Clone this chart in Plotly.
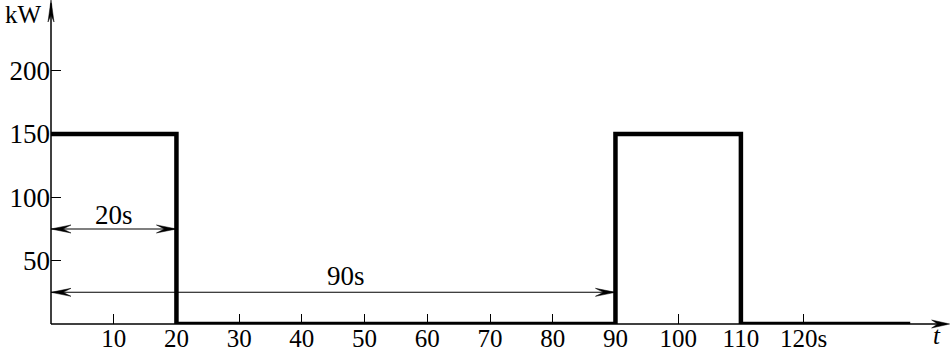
import plotly.graph_objects as go

# Data
time_s = [0, 20, 20, 90, 90, 110, 110, 137]
power_kw = [150, 150, 0, 0, 150, 150, 0, 0]
x_tick_vals = [10, 20, 30, 40, 50, 60, 70, 80, 90, 100, 110, 120]
x_tick_text = ["10", "20", "30", "40", "50", "60", "70", "80", "90", "100", "110", "120s"]
y_tick_vals = [50, 100, 150, 200]
y_tick_text = ["50", "100", "150", "200"]
span_starts = [0, 0]
span_ends = [20, 90]
span_levels = [75, 25]
span_labels = ["20s", "90s"]
span_label_x = [10.1, 47.1]
span_label_y = [86, 38]

FONT = "Liberation Serif, Times New Roman, DejaVu Serif, serif"
FS = 27
X_MAX = 143.5
Y_MAX = 255.7


def head(direction, L, W, notch):
    """Notched arrowhead path in pixels (y up), tip at (0,0)."""
    h = W / 2
    if direction == "right":
        return f"M0,0L{-L},{h}L{-notch},0L{-L},{-h}Z"
    if direction == "left":
        return f"M0,0L{L},{h}L{notch},0L{L},{-h}Z"
    return f"M0,0L{-h},{-L}L0,{-notch}L{h},{-L}Z"  # up


def head_shape(xv, yv, direction, L, W, notch, ref="x"):
    xr, yr = ("x", "y") if ref == "x" else ("paper", "paper")
    return dict(type="path", xref=xr, yref=yr, xsizemode="pixel", ysizemode="pixel",
                xanchor=xv, yanchor=yv, path=head(direction, L, W, notch),
                fillcolor="black", line=dict(color="black", width=0.5), layer="above")


fig = go.Figure()
fig.add_trace(go.Scatter(x=time_s, y=power_kw, mode="lines",
                         line=dict(color="black", width=4.5),
                         showlegend=False, hoverinfo="skip", cliponaxis=False))

shapes = []
# axes (paper refs so the arrowheads are not clipped at the plot edge)
shapes.append(dict(type="line", xref="paper", yref="paper", x0=0, y0=0, x1=0.995, y1=0,
                   line=dict(color="black", width=1.3), layer="below"))
shapes.append(dict(type="line", xref="paper", yref="paper", x0=0, y0=0, x1=0, y1=0.99,
                   line=dict(color="black", width=1.5), layer="below"))
shapes.append(head_shape(0.9985, 0, "right", 18, 8, 12, ref="paper"))
shapes.append(head_shape(0, 1.0, "up", 22, 6, 15, ref="paper"))

anns = []
# dimension arrows
for x0, x1, yv, lab, tx, ty in zip(span_starts, span_ends, span_levels,
                                  span_labels, span_label_x, span_label_y):
    shapes.append(dict(type="line", xref="x", yref="y", x0=x0, y0=yv, x1=x1, y1=yv,
                       line=dict(color="black", width=1.1), layer="below"))
    shapes.append(head_shape(x0, yv, "left", 20, 8, 12))
    shapes.append(head_shape(x1, yv, "right", 20, 8, 12))
    anns.append(dict(x=tx, y=ty, xref="x", yref="y", text=lab, showarrow=False,
                     xanchor="center", yanchor="middle",
                     font=dict(family=FONT, size=FS, color="black")))

# axis titles (paper refs so they are not hidden outside the axis range)
anns.append(dict(x=-0.0311, y=1.0, xref="paper", yref="paper", text="kW", showarrow=False,
                 xanchor="center", yanchor="top", borderpad=0,
                 font=dict(family=FONT, size=25, color="black")))
anns.append(dict(x=0.9844, y=-0.034, xref="paper", yref="paper", text="<i>t</i>",
                 showarrow=False, xanchor="center", yanchor="middle", borderpad=0,
                 font=dict(family=FONT, size=25, color="black")))

fig.update_layout(
    width=951, height=352,
    margin=dict(l=51, r=0, t=0, b=28, pad=0, autoexpand=False),
    paper_bgcolor="white", plot_bgcolor="white",
    shapes=shapes, annotations=anns,
    xaxis=dict(range=[0, X_MAX], showgrid=False, zeroline=False, showline=False,
               tickmode="array", tickvals=x_tick_vals, ticktext=x_tick_text,
               ticks="inside", ticklen=10, tickwidth=1.2, tickcolor="black",
               automargin=False, ticklabelstandoff=-3,
               tickfont=dict(family=FONT, size=25, color="black"), fixedrange=True),
    yaxis=dict(range=[0, Y_MAX], showgrid=False, zeroline=False, showline=False,
               tickmode="array", tickvals=y_tick_vals, ticktext=y_tick_text,
               ticks="inside", ticklen=10, tickwidth=1.2, tickcolor="black",
               automargin=False,
               tickfont=dict(family=FONT, size=FS, color="black"), fixedrange=True),
)

fig.write_html("out.html")
